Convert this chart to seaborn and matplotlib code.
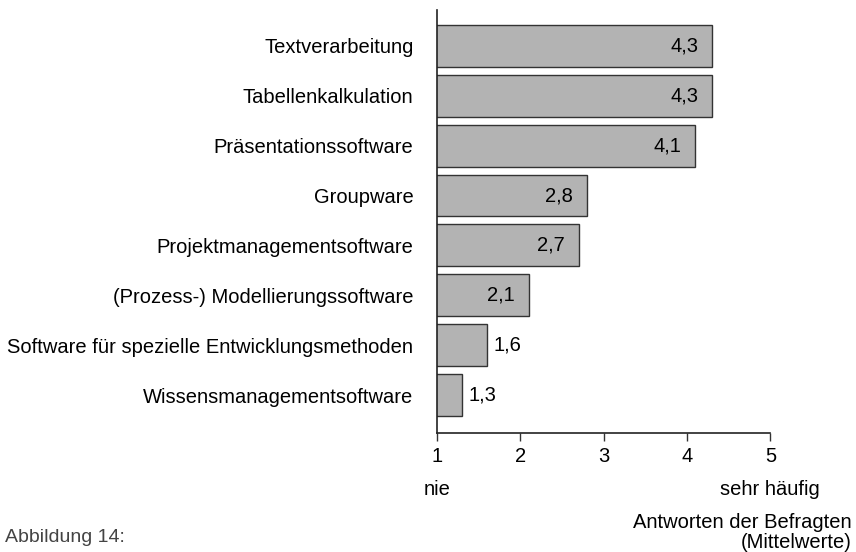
import matplotlib
matplotlib.use("Agg")
import matplotlib.pyplot as plt
import pandas as pd
import seaborn as sns

# ── Data ──────────────────────────────────────────────────────────────────────

categories = [
    "Textverarbeitung",
    "Tabellenkalkulation",
    "Präsentationssoftware",
    "Groupware",
    "Projektmanagementsoftware",
    "(Prozess-) Modellierungssoftware",
    "Software für spezielle Entwicklungsmethoden",
    "Wissensmanagementsoftware",
]
means = [4.3, 4.3, 4.1, 2.8, 2.7, 2.1, 1.6, 1.3]
tick_values = [1, 2, 3, 4, 5]

# ── Plot ──────────────────────────────────────────────────────────────────────

sns.set_theme(style="white")
plt.rcParams["font.family"] = ["Liberation Sans", "DejaVu Sans"]
plt.rcParams["text.color"] = "black"
plt.rcParams["xtick.color"] = "black"
plt.rcParams["ytick.color"] = "black"

df = pd.DataFrame({"Software": categories, "Mittelwert": means})

fig = plt.figure(figsize=(8.56, 5.52), dpi=100)
ax = fig.add_axes([0.5105, 0.2156, 0.3894, 0.7664])

sns.barplot(data=df, x="Mittelwert", y="Software", orient="h", ax=ax,
            color="#b3b3b3", saturation=1, width=0.84,
            edgecolor="#333333", linewidth=1.0)

ax.set_xlim(1, 5)
ax.set_ylim(len(categories) - 1 + 0.76, -0.72)
ax.set_xticks(tick_values)
ax.set_xticklabels([str(v) for v in tick_values], fontsize=14.5)
ax.tick_params(axis="x", bottom=True, direction="out", length=6, width=1,
               color="#333333", pad=4)
ax.tick_params(axis="y", left=False, length=0, pad=17, labelsize=14.5)
ax.set_xlabel("")
ax.set_ylabel("")

for side in ("top", "right"):
    ax.spines[side].set_visible(False)
for side in ("left", "bottom"):
    ax.spines[side].set_color("#222222")
    ax.spines[side].set_linewidth(1.2)

# value labels: inside the bar when it is long enough, else just after it
for bar, val in zip(ax.patches, means):
    y = bar.get_y() + bar.get_height() / 2
    txt = f"{val:.1f}".replace(".", ",")
    if val >= 2:
        ax.annotate(txt, (val, y), xytext=(-10, 0), textcoords="offset points",
                    ha="right", va="center", fontsize=14.5)
    else:
        ax.annotate(txt, (val, y), xytext=(5, 0), textcoords="offset points",
                    ha="left", va="center", fontsize=14.5)

# scale anchors under the axis
ax.annotate("nie", (1, 0), xycoords=("data", "axes fraction"),
            xytext=(0, -41), textcoords="offset points",
            ha="center", va="center", fontsize=14.5)
ax.annotate("sehr häufig", (5, 0), xycoords=("data", "axes fraction"),
            xytext=(0, -41), textcoords="offset points",
            ha="center", va="center", fontsize=14.5)

fig.text(0.995, 0.036, "Antworten der Befragten\n(Mittelwerte)",
         ha="right", va="center", fontsize=14.5, linespacing=1.05)
fig.text(0.006, 0.027, "Abbildung 14:", ha="left", va="center",
         fontsize=14, color="#444444")

fig.savefig("out.png", dpi=100)
